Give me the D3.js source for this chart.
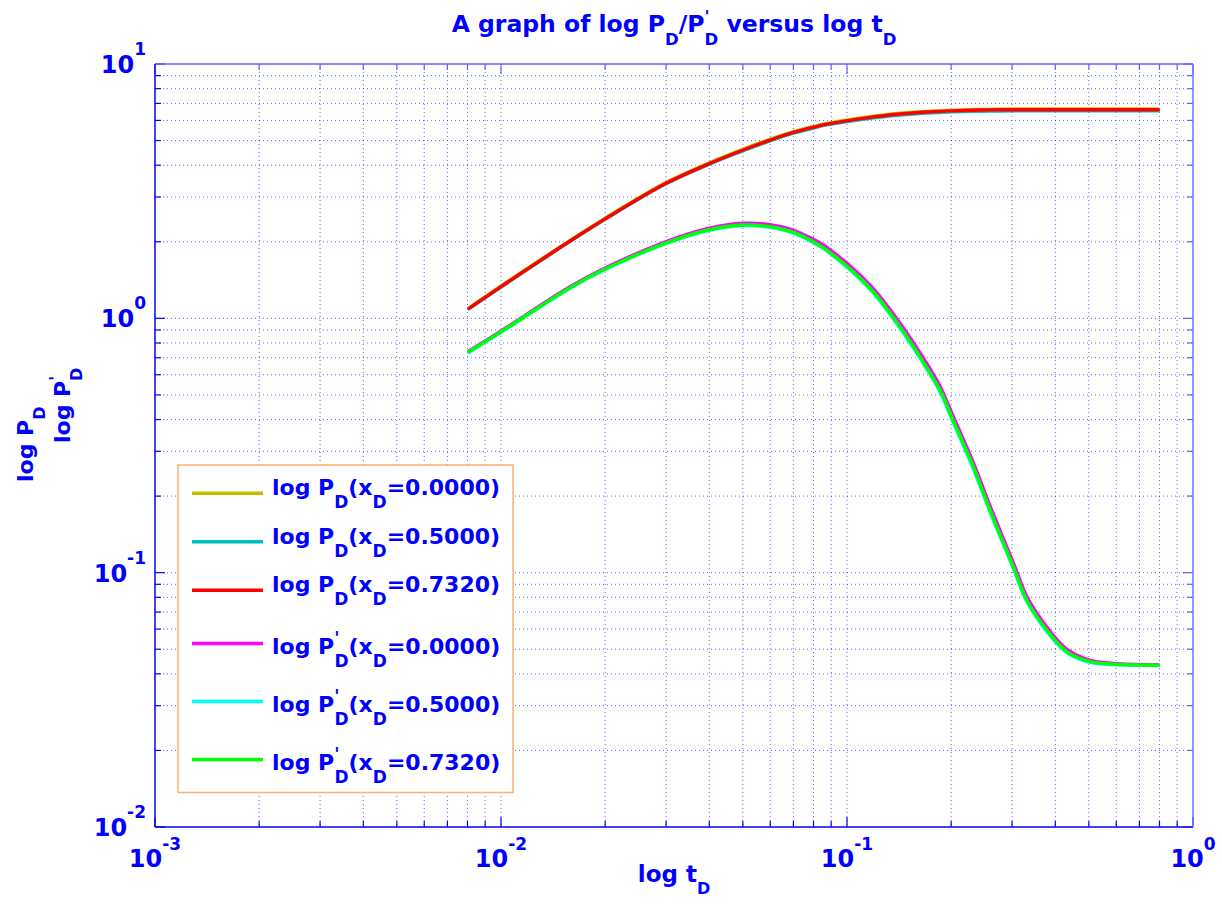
<!DOCTYPE html>
<html>
<head>
<meta charset="utf-8">
<script src="https://cdn.jsdelivr.net/npm/d3@7"></script>
<style>
body{margin:0;background:#fff;}
text{font-family:"DejaVu Sans",sans-serif;font-weight:bold;fill:#0000ff;}
</style>
</head>
<body>
<div id="chart"></div>
<script>
// dimensionless time
var tD=[0.00808,0.00993,0.0160,0.0200,0.0298,0.0397,0.0501,0.0599,0.0692,0.0799,0.0874,0.1166,0.1423,0.1626,0.1857,0.2007,0.2317,0.2590,0.3024,0.3306,0.3777,0.4315,0.5039,0.5886,0.7941];

// P_D for xD = 0, 0.5, 0.732
var pdX0=[1.100,1.332,2.045,2.478,3.405,4.07,4.63,5.06,5.40,5.68,5.84,6.21,6.40,6.49,6.55,6.58,6.62,6.64,6.65,6.65,6.65,6.65,6.65,6.65,6.65];
var pdX05=[1.090,1.318,2.025,2.452,3.365,4.02,4.56,4.99,5.32,5.60,5.76,6.12,6.30,6.39,6.45,6.48,6.51,6.53,6.54,6.55,6.55,6.55,6.55,6.55,6.55];
var pdX0732=[1.094,1.324,2.032,2.461,3.38,4.04,4.59,5.02,5.36,5.64,5.80,6.17,6.36,6.45,6.51,6.54,6.58,6.60,6.61,6.61,6.61,6.61,6.61,6.61,6.61];

// P'_D for xD = 0, 0.5, 0.732
var dpdX0=[0.744,0.886,1.342,1.578,1.995,2.255,2.365,2.335,2.235,2.045,1.900,1.350,0.957,0.731,0.541,0.425,0.271,0.1830,0.1095,0.0808,0.0612,0.0500,0.0452,0.0440,0.0435];
var dpdX05=[0.736,0.876,1.325,1.555,1.962,2.212,2.316,2.280,2.176,1.985,1.840,1.300,0.915,0.697,0.513,0.403,0.256,0.1735,0.1040,0.0772,0.0588,0.0485,0.0444,0.0435,0.0432];
var dpdX0732=[0.739,0.880,1.331,1.563,1.972,2.225,2.328,2.293,2.191,2.001,1.856,1.313,0.927,0.706,0.522,0.410,0.261,0.1763,0.1055,0.0781,0.0595,0.0489,0.0447,0.0437,0.0433];

var xDLabels=["0.0000","0.5000","0.7320"];
var xTicks=[1e-3,1e-2,1e-1,1];
var xTickExp=["-3","-2","-1","0"];
var yTicks=[1e-2,1e-1,1,10];
var yTickExp=["-2","-1","0","1"];

var series=[
 {v:pdX0,color:"#bfbf00",kind:"P",xd:0},
 {v:pdX05,color:"#00bfbf",kind:"P",xd:1},
 {v:pdX0732,color:"#ff0000",kind:"P",xd:2},
 {v:dpdX0,color:"#ff00ff",kind:"dP",xd:0},
 {v:dpdX05,color:"#00ffff",kind:"dP",xd:1},
 {v:dpdX0732,color:"#00ff00",kind:"dP",xd:2}
];

var width=1222,height=910;
var m={left:155,right:1193,top:64,bottom:827};
var svg=d3.select("#chart").append("svg").attr("width",width).attr("height",height);

var x=d3.scaleLog().domain([1e-3,1]).range([m.left,m.right]);
var y=d3.scaleLog().domain([1e-2,10]).range([m.bottom,m.top]);

// minor+major positions
function logVals(lo,hi){
  var out=[];
  for(var e=lo;e<hi;e++){for(var k=1;k<10;k++){out.push(k*Math.pow(10,e));}}
  out.push(Math.pow(10,hi));
  return out;
}
var xAll=logVals(-3,0), yAll=logVals(-2,1);

var grid=svg.append("g");
grid.selectAll(".gx").data(xAll.slice(1,-1)).enter().append("line")
 .attr("x1",d=>x(d)).attr("x2",d=>x(d)).attr("y1",m.top).attr("y2",m.bottom)
 .attr("stroke","#0000ff").attr("stroke-width",1).attr("stroke-dasharray","1,3").attr("opacity",0.6);
grid.selectAll(".gy").data(yAll.slice(1,-1)).enter().append("line")
 .attr("y1",d=>y(d)).attr("y2",d=>y(d)).attr("x1",m.left).attr("x2",m.right)
 .attr("stroke","#0000ff").attr("stroke-width",1).attr("stroke-dasharray","1,3").attr("opacity",0.6);

// ticks on all four sides
function isMajor(d){return Math.abs(Math.log10(d)-Math.round(Math.log10(d)))<1e-9;}
var tk=svg.append("g");
tk.selectAll(".tb").data(xAll).enter().append("line")
 .attr("x1",d=>x(d)).attr("x2",d=>x(d)).attr("y1",m.bottom).attr("y2",d=>m.bottom-(isMajor(d)?10:6))
 .attr("stroke","#0000ff").attr("stroke-width",1.2);
tk.selectAll(".tt").data(xAll).enter().append("line")
 .attr("x1",d=>x(d)).attr("x2",d=>x(d)).attr("y1",m.top).attr("y2",d=>m.top+(isMajor(d)?10:6))
 .attr("stroke","#6060ff").attr("stroke-width",1.2);
tk.selectAll(".tl").data(yAll).enter().append("line")
 .attr("y1",d=>y(d)).attr("y2",d=>y(d)).attr("x1",m.left).attr("x2",d=>m.left+(isMajor(d)?10:6))
 .attr("stroke","#0000ff").attr("stroke-width",1.2);
tk.selectAll(".tr").data(yAll).enter().append("line")
 .attr("y1",d=>y(d)).attr("y2",d=>y(d)).attr("x1",m.right).attr("x2",d=>m.right-(isMajor(d)?10:6))
 .attr("stroke","#6060ff").attr("stroke-width",1.2);

// axes box
svg.append("line").attr("x1",m.left).attr("x2",m.right).attr("y1",m.bottom).attr("y2",m.bottom).attr("stroke","#0000ff").attr("stroke-width",1.5);
svg.append("line").attr("x1",m.left).attr("x2",m.left).attr("y1",m.top).attr("y2",m.bottom).attr("stroke","#0000ff").attr("stroke-width",1.5);
svg.append("line").attr("x1",m.left).attr("x2",m.right).attr("y1",m.top).attr("y2",m.top).attr("stroke","#6060ff").attr("stroke-width",1.5);
svg.append("line").attr("x1",m.right).attr("x2",m.right).attr("y1",m.top).attr("y2",m.bottom).attr("stroke","#7070ff").attr("stroke-width",1.5);

// tick labels
svg.selectAll(".xl").data(xTicks).enter().append("text")
 .attr("x",d=>x(d)).attr("y",m.bottom+40).attr("text-anchor","middle")
 .each(function(d,i){
   var t=d3.select(this);
   t.append("tspan").attr("font-size",24).text("10");
   t.append("tspan").attr("font-size",17).attr("dy",-17).text(xTickExp[i]);
 });
svg.selectAll(".yl").data(yTicks).enter().append("text")
 .attr("x",m.left-9).attr("y",d=>y(d)+9).attr("text-anchor","end")
 .each(function(d,i){
   var t=d3.select(this);
   t.append("tspan").attr("font-size",24).text("10");
   t.append("tspan").attr("font-size",17).attr("dy",-18).text(yTickExp[i]);
 });

// title
var title=svg.append("text").attr("x",(m.left+m.right)/2).attr("y",32).attr("text-anchor","middle").attr("font-size",23.5);
title.append("tspan").text("A graph of log P");
title.append("tspan").attr("font-size",16.5).attr("dy",13).text("D");
title.append("tspan").attr("dy",-13).text("/P");
title.append("tspan").attr("font-size",16.5).attr("dy",-10).text("'");
title.append("tspan").attr("font-size",16.5).attr("dx",-5).attr("dy",23).text("D");
title.append("tspan").attr("dy",-13).text(" versus log t");
title.append("tspan").attr("font-size",16.5).attr("dy",13).text("D");

// axis labels
var xlab=svg.append("text").attr("x",(m.left+m.right)/2).attr("y",882).attr("text-anchor","middle").attr("font-size",23);
xlab.append("tspan").text("log t");
xlab.append("tspan").attr("font-size",16).attr("dy",12).text("D");

var yl1=svg.append("text").attr("transform","translate(33,482) rotate(-90)").attr("font-size",22);
yl1.append("tspan").text("log P");
yl1.append("tspan").attr("font-size",16).attr("dy",12).text("D");
var yl2=svg.append("text").attr("transform","translate(70,443) rotate(-90)").attr("font-size",22);
yl2.append("tspan").text("log P");
yl2.append("tspan").attr("font-size",16).attr("dy",-9).text("'");
yl2.append("tspan").attr("font-size",16).attr("dx",-5).attr("dy",21).text("D");

// curves
var line=d3.line().x((d,i)=>x(tD[i])).y(d=>y(d)).curve(d3.curveCatmullRom.alpha(0.5));
svg.append("g").selectAll("path").data(series).enter().append("path")
 .attr("d",d=>line(d.v)).attr("fill","none").attr("stroke",d=>d.color).attr("stroke-width",3.4)
 .attr("stroke-linejoin","round").attr("stroke-linecap","round");

// legend
var lg={x:178,y:465,w:335,pad:4};
var rowH=series.map(s=>s.kind=="P"?48.5:58);
var lgH=d3.sum(rowH)+2*lg.pad;
var leg=svg.append("g");
leg.append("rect").attr("x",lg.x).attr("y",lg.y).attr("width",lg.w).attr("height",lgH)
 .attr("fill","#fff").attr("stroke","#ffb070").attr("stroke-width",1.5);
var acc=lg.y+lg.pad;
series.forEach(function(s,i){
  var cy=acc+rowH[i]/2; acc+=rowH[i];
  leg.append("line").attr("x1",192).attr("x2",263).attr("y1",cy).attr("y2",cy)
   .attr("stroke",s.color).attr("stroke-width",3.5);
  var t=leg.append("text").attr("x",272).attr("font-size",22);
  if(s.kind=="P"){
    t.attr("y",cy+2);
    t.append("tspan").text("log P");
    t.append("tspan").attr("font-size",17).attr("dy",13).text("D");
  }else{
    t.attr("y",cy+10);
    t.append("tspan").text("log P");
    t.append("tspan").attr("font-size",17).attr("dy",-10).text("'");
    t.append("tspan").attr("font-size",17).attr("dx",-5).attr("dy",23).text("D");
  }
  t.append("tspan").attr("dy",-13).text("(x");
  t.append("tspan").attr("font-size",17).attr("dy",13).text("D");
  t.append("tspan").attr("dy",-13).text("="+xDLabels[s.xd]+")");
});
</script>
</body>
</html>
